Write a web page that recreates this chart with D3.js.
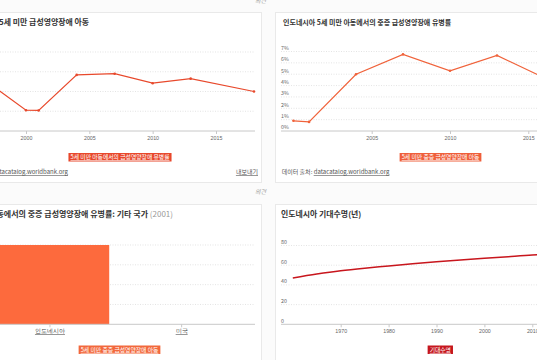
<!DOCTYPE html>
<html><head><meta charset="utf-8">
<script src="https://cdn.jsdelivr.net/npm/d3@7/dist/d3.min.js"></script>
<style>
html,body{margin:0;padding:0;background:#fbfbfb;overflow:hidden;}
svg{display:block;font-family:"Noto Sans CJK KR","Noto Sans",sans-serif;}
</style></head><body>
<svg id="c" width="537" height="360"></svg>
<script>
// ---- data ----
const wastingYears = [1995, 2000, 2001, 2004, 2007, 2010, 2013, 2018];
const wastingValues = [17.0, 5.25, 5.2, 14.2, 14.5, 12.1, 13.25, 10.0];
const severeYears = [2000, 2001, 2004, 2007, 2010, 2013, 2018];
const severeValues = [0.9, 0.8, 5.0, 6.75, 5.3, 6.65, 3.4];
const barCountries = ["인도네시아", "미국"];
const barValues = [0.8, null];
const lifeYears = [1960, 1965, 1970, 1975, 1980, 1985, 1990, 1995, 2000, 2005, 2010, 2015, 2018];
const lifeValues = [47, 51, 54.4, 57, 59.2, 61.5, 63.6, 65.4, 67, 68.7, 70.3, 71.3, 71.8];
const tlTicks = [2000, 2005, 2010, 2015];
const trTicks = [2005, 2010, 2015];
const trYTicks = [0, 1, 2, 3, 4, 5, 6, 7];
const blYTicks = [0.2, 0.4, 0.6, 0.8];
const brTicks = [1970, 1980, 1990, 2000, 2010];
const brYTicks = [0, 20, 40, 60, 80];
const titles = {
  tl: "인도네시아 5세 미만 급성영양장애 아동",
  tr: "인도네시아 5세 미만 아동에서의 중증 급성영양장애 유병률",
  bl: "인도네시아 5세 미만 아동에서의 중증 급성영양장애 유병률: 기타 국가 ",
  blYear: "(2001)",
  br: "인도네시아 기대수명(년)"
};
const legends = {
  tl: "5세 미만 아동에서의 급성영양장애 유병률",
  tr: "5세 미만 중증 급성영양장애 아동",
  bl: "5세 미만 중증 급성영양장애 아동",
  br: "기대수명"
};
const sourceLabel = "데이터 출처: ";
const sourceLink = "datacatalog.worldbank.org";
const exportLabel = "내보내기";
const feedbackLabel = "의견";

// ---- drawing ----
const svg = d3.select("#c");
const TXT = "#333", TICK = "#666", GRID = "#d9d9d9", AXIS = "#c8c8c8";

function card(x, y, w, h) {
  svg.append("rect").attr("x", x).attr("y", y).attr("width", w).attr("height", h)
    .attr("fill", "#fff").attr("stroke", "#e9e9e9").attr("stroke-width", 1);
}
card(-20.5, 12.5, 282, 170);
card(275.5, 12.5, 290, 170);
card(-20.5, 204.5, 282, 180);
card(275.5, 204.5, 290, 180);

svg.append("text").attr("x", 266).attr("y", 2.5).attr("text-anchor", "end")
  .attr("font-size", 6).attr("font-style", "italic").attr("fill", "#999").text(feedbackLabel);
svg.append("text").attr("x", 266).attr("y", 194).attr("text-anchor", "end")
  .attr("font-size", 6).attr("font-style", "italic").attr("fill", "#999").text(feedbackLabel);

function title(x, y, text, anchor, size) {
  return svg.append("text").attr("x", x).attr("y", y).attr("text-anchor", anchor || "start")
    .attr("font-size", size || 7).attr("font-weight", 600).attr("fill", TXT).text(text);
}
function chip(cx, y, text, color) {
  const g = svg.append("g");
  const t = g.append("text").attr("x", cx).attr("y", y + 6.4).attr("text-anchor", "middle")
    .attr("font-size", 5.8).attr("fill", "#fff").style("text-decoration", "underline").text(text);
  const w = t.node().getComputedTextLength() + 4;
  g.insert("rect", "text").attr("x", cx - w / 2).attr("y", y).attr("width", w).attr("height", 8.5)
    .attr("fill", color);
}
function gridH(ys, x0, x1) {
  svg.append("g").selectAll("line").data(ys).join("line")
    .attr("x1", x0).attr("x2", x1).attr("y1", d => d).attr("y2", d => d)
    .attr("stroke", GRID).attr("stroke-width", 0.7).attr("stroke-dasharray", "1,1.5");
}
function xAxis(scale, ticks, y, x0, x1, fmt) {
  const g = svg.append("g").attr("transform", `translate(0,${y})`);
  const ax = d3.axisBottom(scale).tickValues(ticks).tickSize(3).tickPadding(2).tickFormat(fmt || d3.format("d"));
  g.call(ax);
  g.select(".domain").remove();
  g.insert("line", ":first-child").attr("x1", x0).attr("x2", x1).attr("stroke", AXIS).attr("stroke-width", 1);
  g.selectAll(".tick line").attr("stroke", AXIS);
  g.selectAll(".tick text").attr("font-size", 5.3).attr("fill", TICK).attr("font-family", "inherit");
  return g;
}

// Top-left: wasting line
(function () {
  const x = d3.scaleLinear().domain([2000, 2015]).range([26, 216]);
  const y = d3.scaleLinear().domain([0, 20]).range([131, 52]);
  title(89, 25, titles.tl, "end", 7.9);
  gridH([5, 10, 15, 20].map(y), -20, 255);
  xAxis(x, tlTicks, 131, -20, 255);
  const pts = wastingYears.map((d, i) => [d, wastingValues[i]]);
  svg.append("path").datum(pts).attr("fill", "none").attr("stroke", "#e8492c").attr("stroke-width", 1.2)
    .attr("d", d3.line().x(d => x(d[0])).y(d => y(d[1])));
  svg.append("g").selectAll("circle").data(pts).join("circle")
    .attr("cx", d => x(d[0])).attr("cy", d => y(d[1])).attr("r", 1.3).attr("fill", "#e8492c");
  chip(120, 153, legends.tl, "#e8472b");
  const s = svg.append("text").attr("x", 68).attr("y", 174).attr("text-anchor", "end")
    .attr("font-size", 6).attr("fill", "#555");
  s.append("tspan").text(sourceLabel);
  s.append("tspan").style("text-decoration", "underline").text(sourceLink);
  svg.append("text").attr("x", 258).attr("y", 174).attr("text-anchor", "end")
    .attr("font-size", 6).attr("fill", "#555").style("text-decoration", "underline").text(exportLabel);
})();

// Top-right: severe wasting line
(function () {
  const x = d3.scaleLinear().domain([2005, 2010]).range([371.7, 450]);
  const y = d3.scaleLinear().domain([0, 7]).range([131, 51.5]);
  title(283, 25, titles.tr, "start", 7);
  gridH(trYTicks.filter(d => d > 0).map(y), 281, 545);
  svg.append("g").selectAll("text").data(trYTicks).join("text")
    .attr("x", 281).attr("y", d => y(d) - 1.6).attr("font-size", 5.3).attr("fill", TICK)
    .text(d => d + "%");
  xAxis(x, trTicks, 131, 281, 545);
  const pts = severeYears.map((d, i) => [d, severeValues[i]]);
  svg.append("path").datum(pts).attr("fill", "none").attr("stroke", "#f0623a").attr("stroke-width", 1.2)
    .attr("d", d3.line().x(d => x(d[0])).y(d => y(d[1])));
  svg.append("g").selectAll("circle").data(pts).join("circle")
    .attr("cx", d => x(d[0])).attr("cy", d => y(d[1])).attr("r", 1.3).attr("fill", "#f0623a");
  chip(440.5, 153, legends.tr, "#ef5e3a");
  const s = svg.append("text").attr("x", 281.7).attr("y", 174).attr("font-size", 6).attr("fill", "#555");
  s.append("tspan").text(sourceLabel);
  s.append("tspan").style("text-decoration", "underline").text(sourceLink);
})();

// Bottom-left: bar
(function () {
  const x = d3.scaleBand().domain(barCountries).range([-23.4, 255]).paddingInner(0.1).paddingOuter(0.107);
  const y = d3.scaleLinear().domain([0, 0.8]).range([324.3, 245]);
  const t = title(173, 216.8, titles.bl, "end", 8);
  t.append("tspan").attr("fill", "#999").attr("font-weight", 400).text(titles.blYear);
  gridH(blYTicks.map(y), -20, 255);
  svg.append("g").selectAll("rect").data(barCountries.map((c, i) => [c, barValues[i]]).filter(d => d[1] != null))
    .join("rect").attr("x", d => x(d[0])).attr("width", x.bandwidth())
    .attr("y", d => y(d[1])).attr("height", d => y(0) - y(d[1])).attr("fill", "#fd6a3d");
  const g = svg.append("g").attr("transform", "translate(0,324.3)");
  g.call(d3.axisBottom(x).tickSize(3).tickPadding(2));
  g.select(".domain").remove();
  g.insert("line", ":first-child").attr("x1", -20).attr("x2", 255).attr("stroke", AXIS);
  g.selectAll(".tick line").attr("stroke", AXIS);
  g.selectAll(".tick text").attr("font-size", 5.5).attr("fill", "#444").attr("font-family", "inherit")
    .style("text-decoration", "underline");
  chip(119.5, 345.5, legends.bl, "#f2683c");
})();

// Bottom-right: life expectancy
(function () {
  const x = d3.scaleLinear().domain([1970, 2010]).range([340.7, 532.3]);
  const y = d3.scaleLinear().domain([0, 80]).range([324.3, 245.5]);
  title(281, 217.3, titles.br, "start", 7.9);
  gridH(brYTicks.filter(d => d > 0).map(y), 281, 545);
  svg.append("g").selectAll("text").data(brYTicks).join("text")
    .attr("x", 281).attr("y", d => y(d) - 1.6).attr("font-size", 5.3).attr("fill", TICK)
    .text(d => d);
  xAxis(x, brTicks, 324.3, 281, 545);
  const pts = lifeYears.map((d, i) => [d, lifeValues[i]]);
  svg.append("path").datum(pts).attr("fill", "none").attr("stroke", "#c8161d").attr("stroke-width", 1.5)
    .attr("d", d3.line().curve(d3.curveMonotoneX).x(d => x(d[0])).y(d => y(d[1])));
  chip(440.3, 345.5, legends.br, "#c5161d");
})();
</script>
</body></html>
